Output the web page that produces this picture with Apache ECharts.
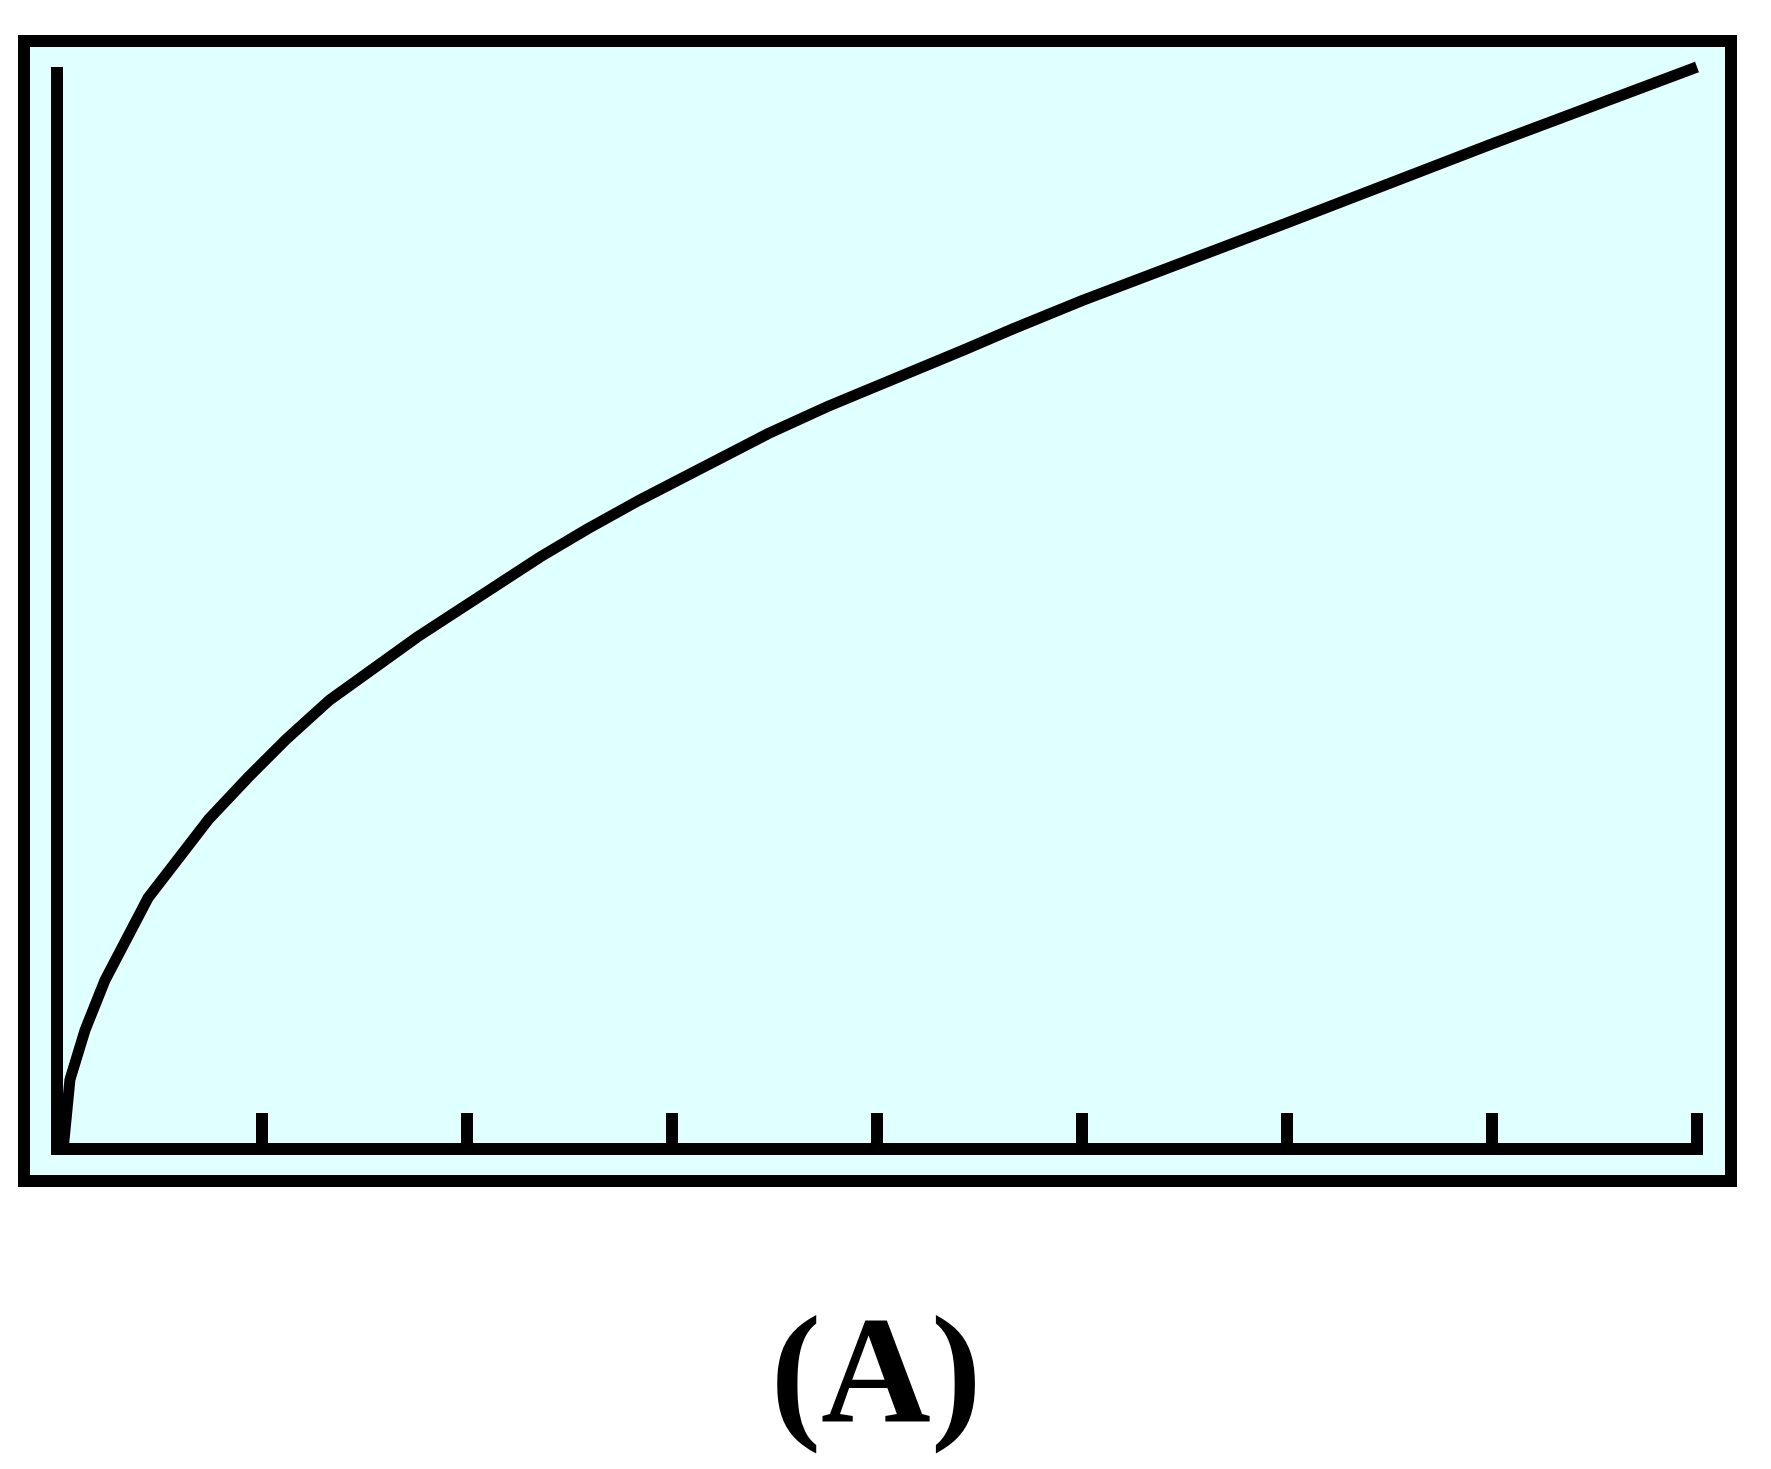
<!DOCTYPE html>
<html>
<head>
<meta charset="utf-8">
<script src="https://cdn.jsdelivr.net/npm/echarts@6/dist/echarts.min.js"></script>
<style>
  html, body { margin: 0; padding: 0; background: #ffffff; }
  #chart { width: 1771px; height: 1469px; }
</style>
</head>
<body>
<div id="chart"></div>
<script>
// ---- data ----
var xValues = [0.03, 0.063, 0.137, 0.234, 0.444, 0.741, 0.93, 1.12, 1.33, 1.756, 2.356, 2.587, 2.844, 3.468, 3.756, 4.43, 4.663, 5, 6, 7, 8];
var yValues = [0, 6.4, 11.0, 15.6, 23.2, 30.5, 34.3, 37.9, 41.5, 47.3, 54.7, 57.3, 60.0, 66.1, 68.6, 73.9, 75.8, 78.4, 85.6, 92.9, 100];
var xRange = [0, 8];
var xTickStep = 1;
var yRange = [0, 100];
var panelLabel = '(A)';

var points = xValues.map(function (x, i) { return [x, yValues[i]]; });

var chart = echarts.init(document.getElementById('chart'), null, { renderer: 'canvas' });
chart.setOption({
  backgroundColor: '#ffffff',
  animation: false,
  grid: { left: 57, right: 74, top: 67, bottom: 320, containLabel: false },
  graphic: [
    {
      type: 'rect',
      z: -10,
      shape: { x: 24, y: 41, width: 1707, height: 1140 },
      style: { fill: '#E0FFFF', stroke: '#000000', lineWidth: 12 }
    },
    {
      type: 'text',
      x: 876,
      y: 1382,
      style: {
        text: panelLabel,
        fontFamily: '"Liberation Serif", "Times New Roman", serif',
        fontWeight: 'bold',
        fontSize: 152,
        fill: '#000000',
        align: 'center',
        verticalAlign: 'middle'
      }
    }
  ],
  xAxis: {
    type: 'value',
    min: xRange[0],
    max: xRange[1],
    interval: xTickStep,
    z: 5,
    axisLine: { show: true, onZero: false, lineStyle: { color: '#000000', width: 12, cap: 'square' } },
    axisTick: { show: true, inside: true, length: 36, lineStyle: { color: '#000000', width: 12, cap: 'butt' } },
    axisLabel: { show: false },
    splitLine: { show: false }
  },
  yAxis: {
    type: 'value',
    min: yRange[0],
    max: yRange[1],
    z: 5,
    axisLine: { show: true, onZero: false, lineStyle: { color: '#000000', width: 12, cap: 'butt' } },
    axisTick: { show: false },
    axisLabel: { show: false },
    splitLine: { show: false }
  },
  series: [
    {
      type: 'line',
      data: points,
      showSymbol: false,
      symbol: 'none',
      smooth: false,
      clip: false,
      z: 4,
      lineStyle: { color: '#000000', width: 11, cap: 'butt', join: 'miter' }
    }
  ]
});
</script>
</body>
</html>
